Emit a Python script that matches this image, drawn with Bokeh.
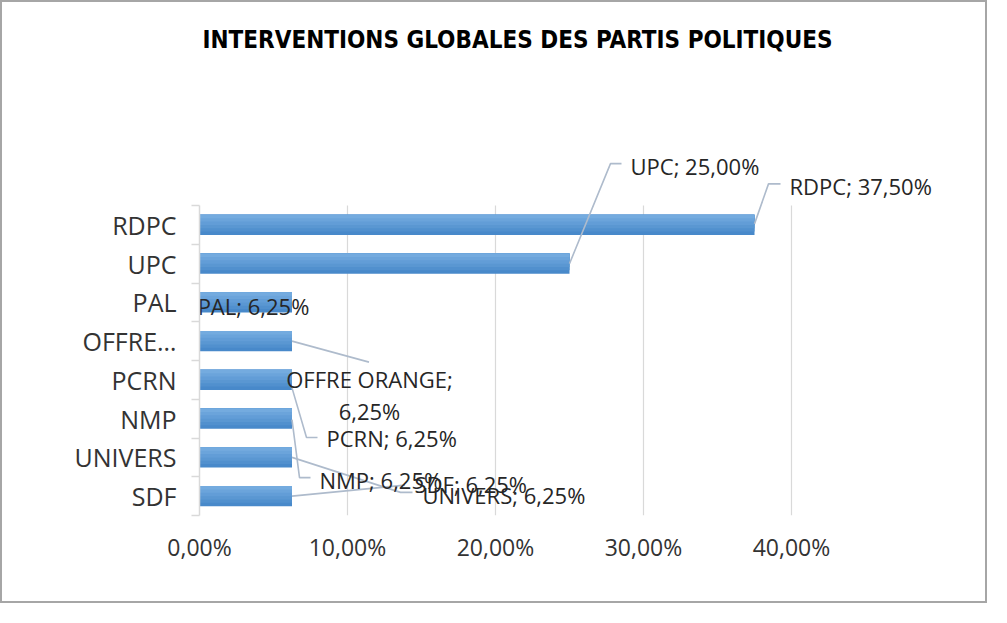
from bokeh.plotting import figure
from bokeh.models import ColumnDataSource, FixedTicker, Range1d
from bokeh.core.properties import value
from bokeh.embed import file_html
from bokeh.resources import INLINE

# ---------------- data ----------------
categories = ["RDPC", "UPC", "PAL", "OFFRE ORANGE", "PCRN", "NMP", "UNIVERS", "SDF"]
axis_labels = ["RDPC", "UPC", "PAL", "OFFRE\u2026", "PCRN", "NMP", "UNIVERS", "SDF"]
shares = [37.50, 25.00, 6.25, 6.25, 6.25, 6.25, 6.25, 6.25]  # percent
x_ticks = [0.0, 0.10, 0.20, 0.30, 0.40]
x_tick_labels = ["0,00%", "10,00%", "20,00%", "30,00%", "40,00%"]
title_text = "INTERVENTIONS GLOBALES DES PARTIS POLITIQUES"

# ---------------- layout / style ----------------
W, H = 987, 603
FL, FR, FT, FB = 197, 9, 10, 90            # borders around the frame
frame_w = W - FL - FR
frame_h = H - FT - FB
px_per_x = 1480.0                          # pixels per unit of share (fraction)
px_per_row = 38.75
x_end = frame_w / px_per_x
y_end = frame_h / px_per_row
n = len(categories)
# title left edge / centre line, in pixels from the frame's bottom-left corner
title_px = (3, 476)

font = "Open Sans"
axis_col = "#d9d9d9"

# label placement (pixels relative to end of bar / row centre), pure styling
lab_dx = [35, 61, -38.5, 77.5, 34.5, 27.5, 130.5, 122.5]
lab_dy = [-39, -98, 4, 54, 58.6, 61, 38, -12.6]
lab_align = ["left", "left", "center", "center", "left", "left", "left", "left"]
lab_sep = [" ", " ", " ", "\n", " ", " ", " ", " "]
leaders = [
    [(0, -1), (14, -41), (26, -41)],
    [(0, 0), (41, -100), (52, -100)],
    [],
    [(0, 0), (77, 21)],
    [(0, 8), (14.5, 57.6), (25.5, 57.6)],
    [(0, 1), (7.5, 59), (18.5, 59)],
    [(0, 0), (108.5, 35), (120.5, 35)],
    [(0, 0), (113, -11)],
]

rows = [n - 1 - i + 0.5 for i in range(n)]
fractions = [s / 100.0 for s in shares]

p = figure(width=W, height=H, output_backend="svg", toolbar_location=None,
           x_range=Range1d(0, x_end), y_range=Range1d(0, y_end),
           min_border_left=FL, min_border_right=FR,
           min_border_top=FT, min_border_bottom=FB)
p.styles = {"border": "2px solid #a6a6a6"}
p.outline_line_color = None
p.background_fill_color = "white"
p.border_fill_color = "white"

# title (left-aligned just inside the frame so nothing is clipped)
p.text(x=[title_px[0] / px_per_x], y=[title_px[1] / px_per_row], text=[title_text],
       text_font=value("DejaVu Sans Condensed"), text_font_style="bold",
       text_font_size="24px", text_color="#000000",
       text_align="left", text_baseline="middle")

# grid lines (only across category band)
p.xgrid.visible = False
p.ygrid.visible = False
p.segment(x0=x_ticks[1:], x1=x_ticks[1:], y0=[0] * (len(x_ticks) - 1),
          y1=[n] * (len(x_ticks) - 1), line_color=axis_col, line_width=1.2)

# bars with a vertical gradient (nested layers, lighter towards the top)
nb = 6
top_rgb, bot_rgb = (0x74, 0xab, 0xdf), (0x48, 0x89, 0xca)
bar_h = 0.52
for k in range(nb):
    t = k / (nb - 1)
    col = "#%02x%02x%02x" % tuple(round(b + (a - b) * t) for a, b in zip(top_rgb, bot_rgb))
    h = bar_h * (nb - k) / nb
    p.hbar(y=[r + bar_h / 2 - h / 2 for r in rows], left=0, right=fractions, height=h,
           fill_color=col, line_color=None)

# leader lines
xs, ys = [], []
for f, r, pts in zip(fractions, rows, leaders):
    if not pts:
        continue
    xs.append([f + dx / px_per_x for dx, dy in pts])
    ys.append([r - dy / px_per_row for dx, dy in pts])
p.multi_line(xs, ys, line_color="#aebbcc", line_width=1.6)

# data labels
texts = [f"{c};{s}{v:.2f}%".replace(".", ",") for c, s, v in zip(categories, lab_sep, shares)]
src = ColumnDataSource(dict(x=fractions, y=rows, text=texts, xo=lab_dx, yo=lab_dy, al=lab_align))
p.text(x="x", y="y", text="text", x_offset="xo", y_offset="yo", source=src,
       text_align="al", text_baseline="middle", text_font=value(font),
       text_font_size="22px", text_color="#262626", text_line_height=1.05)

# axes
p.yaxis.ticker = FixedTicker(ticks=rows, minor_ticks=list(range(n + 1)))
p.yaxis.major_label_overrides = {r: l for r, l in zip(rows, axis_labels)}
p.yaxis.bounds = (0, n)
p.yaxis.axis_line_color = axis_col
p.yaxis.axis_line_width = 1.5
p.yaxis.major_tick_line_color = None
p.yaxis.major_tick_out = 0
p.yaxis.major_tick_in = 0
p.yaxis.minor_tick_line_color = axis_col
p.yaxis.minor_tick_line_width = 1.5
p.yaxis.minor_tick_out = 8
p.yaxis.minor_tick_in = 0
p.yaxis.major_label_standoff = 15
p.yaxis.major_label_text_font = font
p.yaxis.major_label_text_font_size = "25px"
p.yaxis.major_label_text_color = "#333333"

p.xaxis.ticker = FixedTicker(ticks=x_ticks)
p.xaxis.major_label_overrides = {t: l for t, l in zip(x_ticks, x_tick_labels)}
p.xaxis.axis_line_color = None
p.xaxis.major_tick_line_color = None
p.xaxis.minor_tick_line_color = None
p.xaxis.major_label_standoff = 9
p.xaxis.major_label_text_font = font
p.xaxis.major_label_text_font_size = "23px"
p.xaxis.major_label_text_color = "#333333"

open("out.html", "w").write(file_html(p, INLINE))
